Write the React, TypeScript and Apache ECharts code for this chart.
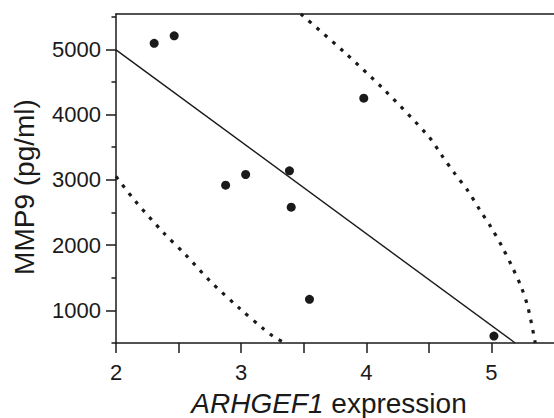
import React, { useEffect, useRef } from "react";
import * as echarts from "echarts";

const pointsX = [2.305, 2.465, 2.876, 3.036, 3.386, 3.4, 3.98, 3.546, 5.02];
const pointsY = [5090, 5205, 2917, 3081, 3138, 2580, 4251, 1169, 606];

const fitX = [2, 5.19];
const fitY = [4990, 500];

const upperX = [3.477, 3.82, 4.139, 4.5, 4.607, 4.706, 4.812, 4.905, 4.998, 5.086, 5.166, 5.238, 5.291, 5.344, 5.35];
const upperY = [5540, 4963, 4387, 3660, 3363, 3098, 2831, 2546, 2270, 1972, 1666, 1359, 1052, 567, 500];

const lowerX = [2, 2.152, 2.378, 2.564, 2.75, 2.99, 3.176, 3.256, 3.349];
const lowerY = [3050, 2679, 2193, 1836, 1452, 1026, 721, 603, 500];

const xTickLabels = [2, 3, 4, 5];
const yMajorTicks = [1000, 2000, 3000, 4000, 5000];
const yMinorTicks = [500, 1500, 2500, 3500, 4500, 5500];

const FONT = "'Liberation Sans', Arial, Helvetica, sans-serif";
const INK = "#1a1a1a";

const zip = (xs: number[], ys: number[]) => xs.map((x, i) => [x, ys[i]]);

export default function App() {
  const ref = useRef<HTMLDivElement>(null);
  useEffect(() => {
    if (!ref.current) return;
    const chart = echarts.init(ref.current, null, { renderer: "svg" });
    chart.setOption({
      animation: false,
      backgroundColor: "#ffffff",
      grid: { left: 116, top: 14, right: 0, bottom: 75 },
      xAxis: [
        {
          type: "value",
          min: 2,
          max: 5.5,
          interval: 0.5,
          position: "bottom",
          splitLine: { show: false },
          axisLine: { show: true, onZero: false, lineStyle: { color: INK, width: 1.5 } },
          axisTick: { show: true, length: 10, lineStyle: { color: INK, width: 1.5 } },
          axisLabel: {
            margin: 18,
            fontSize: 22,
            fontFamily: FONT,
            color: INK,
            showMaxLabel: false,
            formatter: (v: number) => (xTickLabels.includes(v) ? String(v) : ""),
          },
        },
        {
          type: "value",
          min: 2,
          max: 5.5,
          position: "top",
          splitLine: { show: false },
          axisLine: { show: true, onZero: false, lineStyle: { color: INK, width: 1.5 } },
          axisTick: { show: false },
          axisLabel: { show: false },
        },
      ],
      yAxis: [
        {
          type: "value",
          min: 500,
          max: 5540,
          position: "left",
          splitLine: { show: false },
          axisLine: { show: true, onZero: false, lineStyle: { color: INK, width: 1.5 } },
          axisTick: {
            show: true,
            length: 10,
            customValues: yMajorTicks,
            lineStyle: { color: INK, width: 1.5 },
          },
          axisLabel: {
            margin: 15,
            fontSize: 22,
            fontFamily: FONT,
            color: INK,
            customValues: yMajorTicks,
            formatter: (v: number) => String(v),
          },
        },
        {
          type: "value",
          min: 500,
          max: 5540,
          position: "left",
          splitLine: { show: false },
          axisLine: { show: false },
          axisTick: {
            show: true,
            length: 4.5,
            customValues: yMinorTicks,
            lineStyle: { color: INK, width: 1.5 },
          },
          axisLabel: { show: false, customValues: yMinorTicks },
        },
      ],
      graphic: [
        {
          type: "text",
          x: 24,
          y: 187,
          rotation: Math.PI / 2,
          style: {
            text: "MMP9 (pg/ml)",
            fontSize: 28,
            fontFamily: FONT,
            fill: INK,
            textAlign: "center",
            textVerticalAlign: "middle",
          },
        },
        {
          type: "text",
          x: 329,
          y: 403,
          style: {
            text: "{i|ARHGEF1} expression",
            fontSize: 28,
            fontFamily: FONT,
            fill: INK,
            textAlign: "center",
            textVerticalAlign: "middle",
            rich: {
              i: { fontStyle: "italic", fontSize: 28, fontFamily: FONT, fill: INK },
            },
          },
        },
      ],
      series: [
        {
          type: "line",
          data: zip(fitX, fitY),
          symbol: "none",
          lineStyle: { color: INK, width: 1.4 },
          z: 3,
        },
        {
          type: "line",
          data: zip(upperX, upperY),
          symbol: "none",
          smooth: 0.3,
          lineStyle: { color: INK, width: 3.2, type: [3.5, 7] },
          z: 3,
        },
        {
          type: "line",
          data: zip(lowerX, lowerY),
          symbol: "none",
          smooth: 0.3,
          lineStyle: { color: INK, width: 3.2, type: [3.5, 7] },
          z: 3,
        },
        {
          type: "scatter",
          data: zip(pointsX, pointsY),
          symbol: "circle",
          symbolSize: 9,
          itemStyle: { color: INK, opacity: 1 },
          z: 4,
        },
      ],
    });
    return () => chart.dispose();
  }, []);
  return <div ref={ref} style={{ width: 554, height: 418, position: "fixed", left: 0, top: 0 }} />;
}
